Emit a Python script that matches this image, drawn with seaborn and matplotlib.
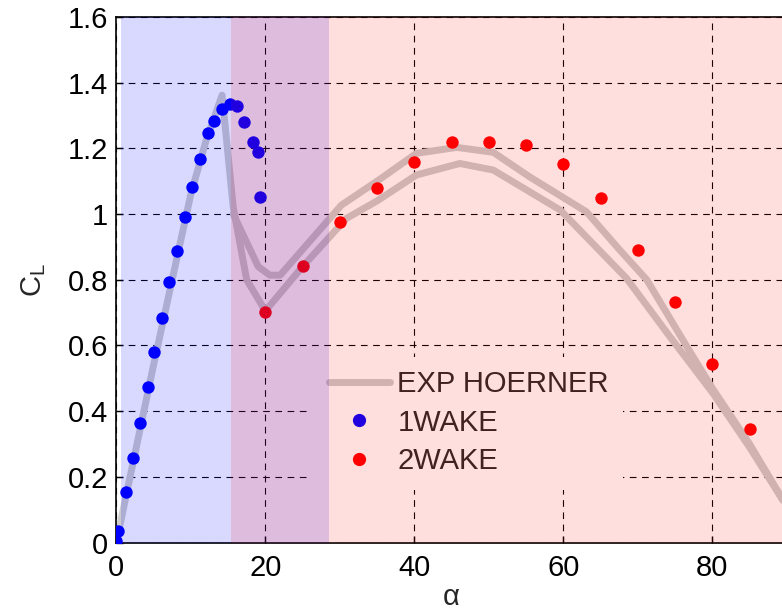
import numpy as np
import pandas as pd
import seaborn as sns
import matplotlib.pyplot as plt
from matplotlib.lines import Line2D
from matplotlib.patches import Rectangle

# experimental curve (Hoerner), traced as one polyline: up, down the lower branch, back along the upper one
alpha_exp = [0, 5, 10, 12, 14.2, 15.7, 17.5, 20, 25, 30.9, 35, 40.3, 46.1, 50.6, 59.6,
             68.5, 74.3, 80.1, 85, 90, 85, 80, 76.6, 71.2, 67.6, 63.1, 55.5, 50.6,
             45.7, 40.3, 35, 30.2, 22, 20.6, 19.05, 15.7]
cl_exp = [0, 0.54, 1.06, 1.22, 1.362, 1.02, 0.80, 0.705, 0.84, 0.987, 1.04, 1.119, 1.154,
          1.134, 1.012, 0.804, 0.627, 0.454, 0.29, 0.11, 0.30, 0.47, 0.596, 0.80, 0.89,
          1.007, 1.113, 1.188, 1.203, 1.185, 1.10, 1.027, 0.814, 0.814, 0.84, 1.0]

alpha_1wake = [0, 0.2, 1.3, 2.2, 3.2, 4.2, 5.1, 6.2, 7.1, 8.2, 9.2, 10.2, 11.3, 12.3,
               13.1, 14.2, 15.2, 16.2, 17.2, 18.3, 19.0, 19.3]
cl_1wake = [0.005, 0.036, 0.154, 0.256, 0.364, 0.472, 0.58, 0.684, 0.793, 0.889, 0.99,
            1.083, 1.167, 1.247, 1.284, 1.32, 1.334, 1.329, 1.28, 1.22, 1.188, 1.051]

alpha_2wake = [20, 25, 30, 35, 40, 45, 50, 55, 60, 65, 70, 75, 80, 85]
cl_2wake = [0.703, 0.843, 0.975, 1.078, 1.158, 1.218, 1.218, 1.21, 1.153, 1.05, 0.89,
            0.731, 0.542, 0.345]

x_ticks = [0, 20, 40, 60, 80]
y_ticks = [0, 0.2, 0.4, 0.6, 0.8, 1, 1.2, 1.4, 1.6]

sns.set_style('ticks')
plt.rcParams['font.family'] = ['Liberation Sans', 'DejaVu Sans']
plt.rcParams['mathtext.fontset'] = 'custom'
plt.rcParams['mathtext.rm'] = 'Liberation Sans'

fig = plt.figure(figsize=(7.82, 6.13), dpi=100)
ax = fig.add_axes([116.3 / 782, 70.5 / 613, 670.5 / 782, 525.5 / 613])

df_exp = pd.DataFrame({'alpha': alpha_exp, 'cl': cl_exp})
sns.lineplot(data=df_exp, x='alpha', y='cl', sort=False, estimator=None,
             color=(0.8, 0.8, 0.8), lw=5, ax=ax, zorder=2)
sns.scatterplot(x=alpha_1wake, y=cl_1wake, color=(0, 0, 1), s=80, linewidth=0, ax=ax, zorder=3)
sns.scatterplot(x=alpha_2wake, y=cl_2wake, color=(1, 0, 0), s=80, linewidth=0, ax=ax, zorder=3)

ax.set_xlim(0, 90)
ax.set_ylim(0, 1.6)
ax.set_xticks(x_ticks)
ax.set_yticks(y_ticks)
ax.set_yticklabels(['%g' % v for v in y_ticks])
ax.tick_params(direction='in', labelsize=21, length=5, width=1, colors='black')
ax.tick_params(axis='x', pad=8)
ax.tick_params(axis='y', pad=6)
ax.grid(True, color='black', ls=(0, (6, 5)), lw=0.8)
ax.set_axisbelow(True)
for s in ax.spines.values():
    s.set_linewidth(1.2)
    s.set_color('black')

ax.set_xlabel('α', fontsize=21, labelpad=1)
ax.set_ylabel(r'$\mathregular{C_L}$', fontsize=21, labelpad=14)

# white legend box hiding the grid
ax.add_patch(Rectangle((0.286, 0.1), 0.47, 0.253, transform=ax.transAxes,
                       facecolor='white', edgecolor='none', zorder=4))
handles = [Line2D([], [], color=(0.8, 0.8, 0.8), lw=5),
           Line2D([], [], color=(0, 0, 1), marker='o', ls='', ms=8.5),
           Line2D([], [], color=(1, 0, 0), marker='o', ls='', ms=8.5)]
leg = ax.legend(handles, ['EXP HOERNER', '1WAKE', '2WAKE'], loc='upper left',
                bbox_to_anchor=(0.317, 0.328), frameon=False, fontsize=21,
                borderpad=0, borderaxespad=0, handlelength=2.1, handletextpad=0.25,
                labelspacing=0.36)
leg.set_zorder(5)

# translucent regions drawn over everything
ax.axvspan(0.6, 28.6, color=(0, 0, 1), alpha=0.15, lw=0, zorder=10)
ax.axvspan(15.4, 90, color=(1, 0, 0), alpha=0.13, lw=0, zorder=10)

fig.savefig('out.png', dpi=100)
